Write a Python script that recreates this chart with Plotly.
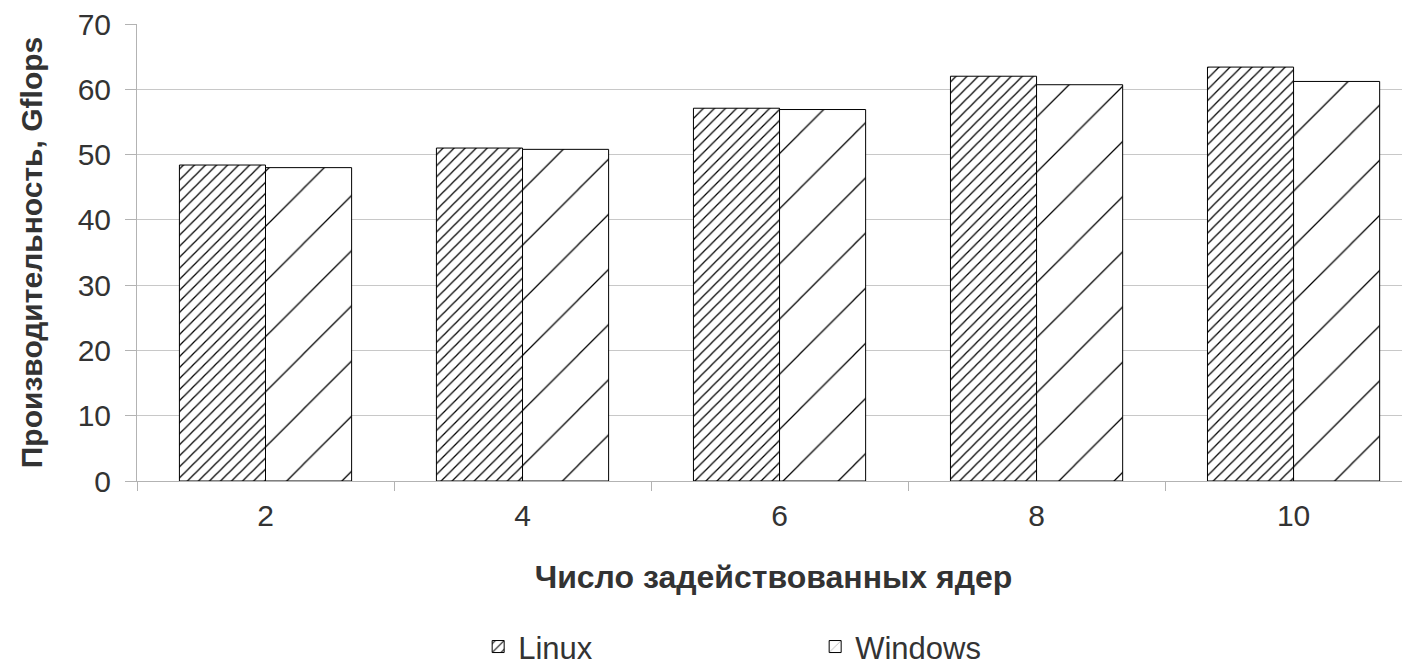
import plotly.graph_objects as go

categories = ["2", "4", "6", "8", "10"]
linux = [48.4, 51.0, 57.1, 62.0, 63.4]
windows = [48.0, 50.8, 56.9, 60.7, 61.2]

fig = go.Figure()
fig.add_trace(go.Bar(
    name="Linux", x=categories, y=linux,
    marker=dict(color="white", line=dict(color="black", width=1),
                pattern=dict(shape="/", fgcolor="#000000", fgopacity=1, bgcolor="white",
                             size=7.8, solidity=0.16)),
))
fig.add_trace(go.Bar(
    name="Windows", x=categories, y=windows,
    marker=dict(color="white", line=dict(color="black", width=1),
                pattern=dict(shape="/", fgcolor="#000000", fgopacity=1, bgcolor="white",
                             size=39, solidity=0.032)),
))

font_family = "Liberation Sans, Arial, sans-serif"
fig.update_layout(
    width=1402, height=661,
    barmode="group", bargap=0.33, bargroupgap=0,
    plot_bgcolor="white", paper_bgcolor="white",
    margin=dict(l=129, r=0, t=16, b=188, autoexpand=False),
    font=dict(family=font_family, size=30, color="#333333"),
    showlegend=True,
    legend=dict(orientation="h", x=0.268, xanchor="left", y=-0.363, yanchor="middle",
                entrywidth=292, font=dict(size=31, color="#333333")),
    xaxis=dict(
        type="category", range=[-0.5, 4.453], automargin=False,
        showline=True, linecolor="#b3b3b3", linewidth=1,
        ticks="outside", ticklen=9, tickcolor="#b3b3b3", tickson="boundaries",
        ticklabelstandoff=8,
        tickfont=dict(size=30, color="#333333"),
        title=dict(text="<b>Число задействованных ядер</b>", font=dict(size=32, color="#333333"), standoff=34),
        showgrid=False,
    ),
    yaxis=dict(
        range=[0, 70], dtick=10, automargin=False,
        showline=True, linecolor="#b3b3b3", linewidth=1,
        ticks="outside", ticklen=11, tickcolor="#b3b3b3", ticklabelstandoff=8,
        ticklabeloverflow="allow",
        showgrid=True, gridcolor="#c8c8c8", gridwidth=1,
        zeroline=False,
        tickfont=dict(size=30, color="#333333"),
        title=dict(text="<b>Производительность, Gflops</b>", font=dict(size=30, color="#333333"), standoff=26),
    ),
)

fig.write_html("out.html")
